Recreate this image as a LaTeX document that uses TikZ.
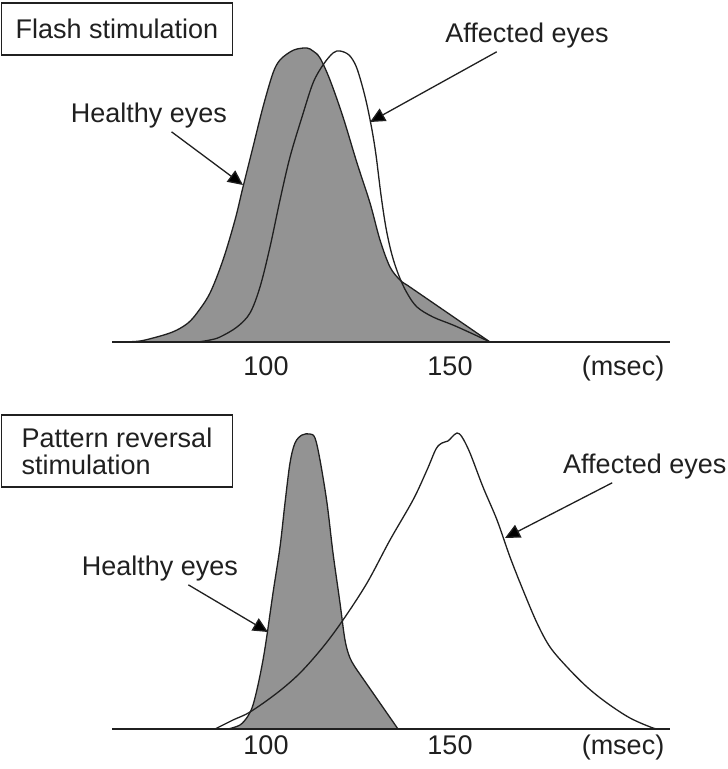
\documentclass[tikz,border=0pt]{standalone}
\usepackage{fontspec}
\setmainfont{Liberation Sans}
\usetikzlibrary{arrows.meta,positioning}
\definecolor{curvegray}{RGB}{147,147,147}
\definecolor{inkdark}{RGB}{32,32,32}

\begin{document}
\begin{tikzpicture}[x=1pt,y=-1pt,>={Triangle[length=15pt,width=14pt]},
	lbl/.style={inner sep=4pt, font=\fontsize{27}{27}\selectfont, text=inkdark, anchor=base},
	titlebox/.style={draw=inkdark, line width=1.4pt, minimum width=231pt, inner sep=4pt, font=\fontsize{27}{27}\selectfont, text=inkdark, align=left},
	curve/.style={draw=inkdark, line width=1.3pt, line join=round},
	axis/.style={draw=inkdark, line width=1.8pt},
	pointer/.style={->, draw=inkdark, line width=1.3pt}]
		\useasboundingbox (0,0) rectangle (728,769);

		% flash stimulation
		\node [titlebox, minimum height=52pt] (flashbox) at (117,29) {Flash stimulation};
		\draw[curve, fill=curvegray] plot[smooth, tension=0.55] coordinates {(125,342) (140,341) (153,338) (167,334) (177,330) (188,323) (197,313) (210,293) (223,260) (235,220) (243,187) (253,147) (263,107) (273,73) (280,60) (290,52) (297,49) (307,48) (313,51) (320,58) (330,80) (343,117) (357,163) (370,203) (380,240) (390,267) (400,280) (407,285)} -- (490,342) -- cycle;
		\draw[curve] plot[smooth, tension=0.55] coordinates {(198,342) (210,340) (220,337) (237,327) (250,313) (260,287) (270,247) (280,200) (290,157) (302,117) (313,83) (323,65) (333,53) (340,51) (349,55) (356,66) (362,85) (367,105) (372,130) (376,155) (381,195) (386,228) (392,255) (399,276) (407,293) (417,307) (433,317) (453,325) (473,334) (490,342)};
		\draw[axis] (112,342) -- (670,342);

		\node [lbl] (flash100) at (266,375) {100};
		\node [lbl] (flash150) at (450,375) {150};
		\node [lbl] (flashunit) at (623,375) {(msec)};

		\node [lbl] (hlthA) at (149,122) {Healthy eyes};
		\node [lbl] (affA) at (527,42) {Affected eyes};
		\coordinate (hlthAtip) at (243,185);
		\coordinate (affAtip) at (370,122);
		\path[pointer] (hlthA) edge (hlthAtip);
		\path[pointer] (affA) edge (affAtip);

		% pattern reversal stimulation
		\node [titlebox, minimum height=72pt] (patbox) at (117,451) {Pattern reversal\\stimulation};
		\draw[curve, fill=curvegray] plot[smooth, tension=0.55] coordinates {(228,729) (240,725) (248,716) (253,705) (258,685) (263,660) (267,635) (273,593) (280,547) (285,503) (290,463) (295,443) (302,435) (310,434) (315,438) (320,460) (327,503) (333,553) (340,603) (345,640) (350,658) (357,670)} -- (398,729) -- cycle;
		\draw[curve] plot[smooth, tension=0.55] coordinates {(215,729) (233,720) (250,712) (277,693) (300,673) (323,647) (343,620) (367,583) (390,540) (413,500) (427,470) (436,449) (442,443) (448,441) (452,437) (457,433) (462,437) (470,453) (483,487) (497,520) (510,557) (523,590) (537,623) (550,647) (567,667) (587,687) (607,703) (630,718) (653,728) (660,729)};
		\draw[axis] (112,729) -- (670,729);

		\node [lbl] (pat100) at (266,754) {100};
		\node [lbl] (pat150) at (450,754) {150};
		\node [lbl] (patunit) at (623,754) {(msec)};

		\node [lbl] (hlthB) at (160,575) {Healthy eyes};
		\node [lbl, anchor=base west] (affB) at (559,473) {Affected eyes};
		\coordinate (hlthBtip) at (268,632);
		\coordinate (affBtip) at (505,538);
		\path[pointer] (hlthB) edge (hlthBtip);
		\path[pointer] (affB) edge (affBtip);
		\end{tikzpicture}
\end{document}
